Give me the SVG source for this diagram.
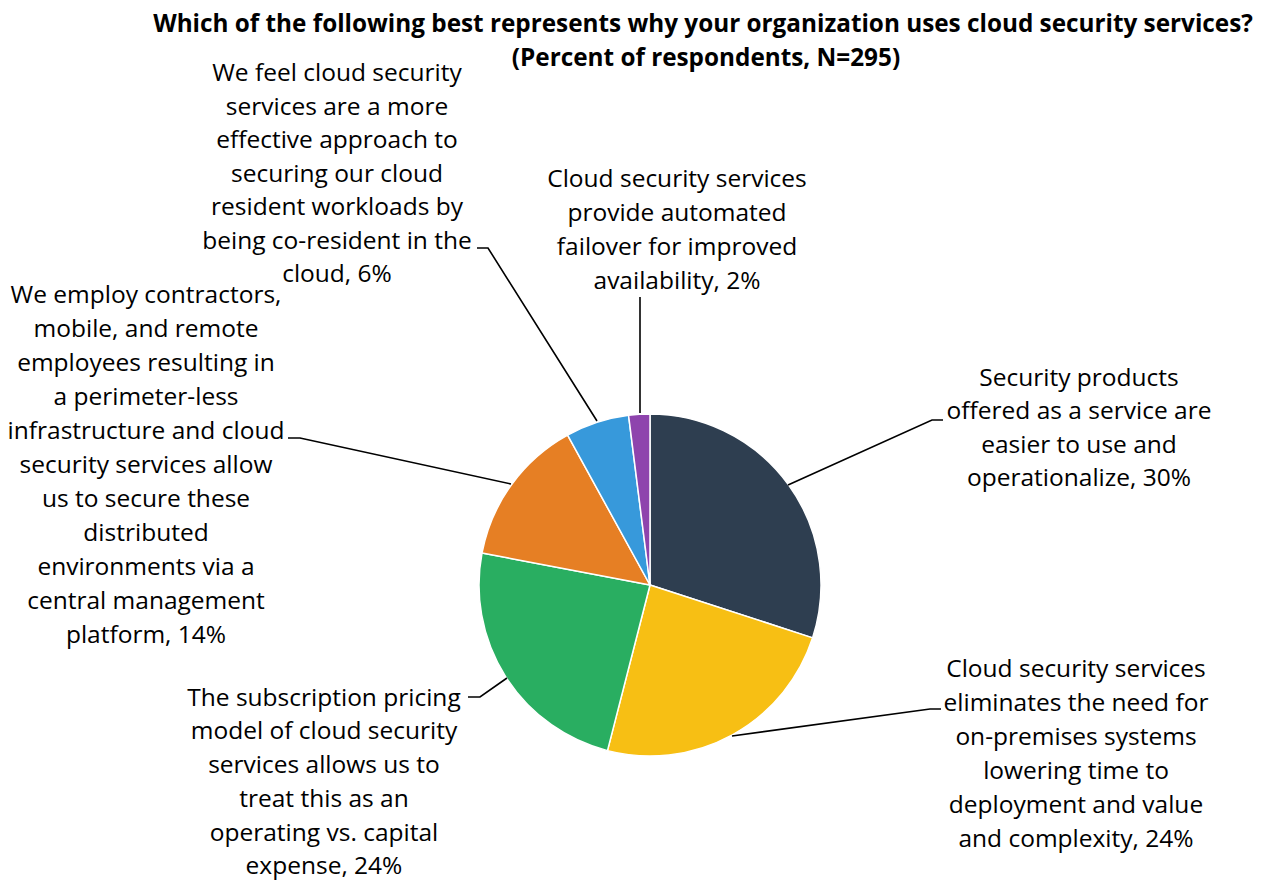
<svg xmlns="http://www.w3.org/2000/svg" width="1262" height="880" viewBox="0 0 1262 880">
<style>
text{font-family:"Open Sans","Liberation Sans",sans-serif;fill:#000;}
.t{font-size:24.3px;font-weight:bold;text-anchor:middle;}
.l{font-size:24.5px;text-anchor:middle;}
.s{stroke:#fff;stroke-width:1.5;stroke-linejoin:round;}
.c{fill:none;stroke:#000;stroke-width:1.6;}
</style>
<rect width="1262" height="880" fill="#fff"/>
<g id="title">
<text class="t" x="703" y="32">Which of the following best represents why your organization uses cloud security services?</text>
<text class="t" x="706" y="66">(Percent of respondents, N=295)</text>
</g>
<g id="pie">
<path id="s30" class="s" fill="#2E3E50" d="M650,585 L650,414 A171,171 0 0,1 812.63,637.84 Z"/>
<path id="s24a" class="s" fill="#F7BF14" d="M650,585 L812.63,637.84 A171,171 0 0,1 607.47,750.63 Z"/>
<path id="s24b" class="s" fill="#29AE61" d="M650,585 L607.47,750.63 A171,171 0 0,1 482.03,552.96 Z"/>
<path id="s14" class="s" fill="#E67F24" d="M650,585 L482.03,552.96 A171,171 0 0,1 567.62,435.15 Z"/>
<path id="s6" class="s" fill="#3799DB" d="M650,585 L567.62,435.15 A171,171 0 0,1 628.57,415.35 Z"/>
<path id="s2" class="s" fill="#8E44AD" d="M650,585 L628.57,415.35 A171,171 0 0,1 650,414 Z"/>
</g>
<g id="connectors">
<polyline class="c" points="788,485 932,420 943,420"/>
<polyline class="c" points="732,736 930,709 941,709"/>
<polyline class="c" points="507,678 480,697 468,697"/>
<polyline class="c" points="511,484 300,438 288,438"/>
<polyline class="c" points="597,421 488,248 477,248"/>
<polyline class="c" points="640,413 640,297"/>
</g>
<g id="label30">
<text class="l" x="1079" y="386">Security products</text>
<text class="l" x="1079" y="419">offered as a service are</text>
<text class="l" x="1079" y="453">easier to use and</text>
<text class="l" x="1079" y="486">operationalize, 30%</text>
</g>
<g id="label24a">
<text class="l" x="1076" y="677">Cloud security services</text>
<text class="l" x="1076" y="711">eliminates the need for</text>
<text class="l" x="1076" y="745">on-premises systems</text>
<text class="l" x="1076" y="779">lowering time to</text>
<text class="l" x="1076" y="813">deployment and value</text>
<text class="l" x="1076" y="847">and complexity, 24%</text>
</g>
<g id="label24b">
<text class="l" x="324" y="706">The subscription pricing</text>
<text class="l" x="324" y="739">model of cloud security</text>
<text class="l" x="324" y="773">services allows us to</text>
<text class="l" x="324" y="807">treat this as an</text>
<text class="l" x="324" y="841">operating vs. capital</text>
<text class="l" x="324" y="874">expense, 24%</text>
</g>
<g id="label14">
<text class="l" x="146" y="303">We employ contractors,</text>
<text class="l" x="146" y="337">mobile, and remote</text>
<text class="l" x="146" y="371">employees resulting in</text>
<text class="l" x="146" y="405">a perimeter-less</text>
<text class="l" x="146" y="439">infrastructure and cloud</text>
<text class="l" x="146" y="473">security services allow</text>
<text class="l" x="146" y="507">us to secure these</text>
<text class="l" x="146" y="541">distributed</text>
<text class="l" x="146" y="575">environments via a</text>
<text class="l" x="146" y="609">central management</text>
<text class="l" x="146" y="643">platform, 14%</text>
</g>
<g id="label6">
<text class="l" x="337" y="81">We feel cloud security</text>
<text class="l" x="337" y="114.5">services are a more</text>
<text class="l" x="337" y="148">effective approach to</text>
<text class="l" x="337" y="181.5">securing our cloud</text>
<text class="l" x="337" y="215">resident workloads by</text>
<text class="l" x="337" y="248.5">being co-resident in the</text>
<text class="l" x="337" y="282">cloud, 6%</text>
</g>
<g id="label2">
<text class="l" x="677" y="187">Cloud security services</text>
<text class="l" x="677" y="221">provide automated</text>
<text class="l" x="677" y="254.5">failover for improved</text>
<text class="l" x="677" y="288.5">availability, 2%</text>
</g>
</svg>
